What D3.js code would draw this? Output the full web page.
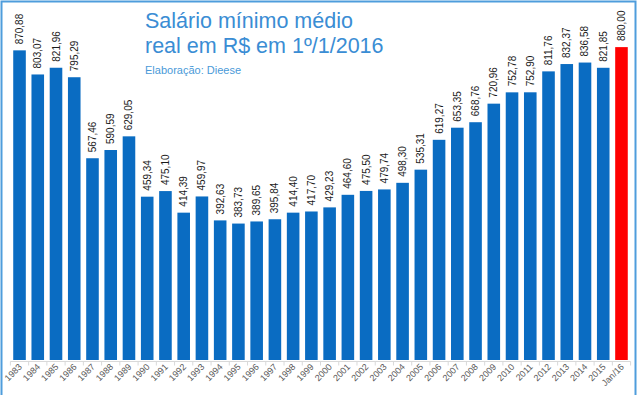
<!DOCTYPE html>
<html>
<head>
<meta charset="utf-8">
<script src="https://cdn.jsdelivr.net/npm/d3@7"></script>
<style>
  html, body { margin: 0; padding: 0; background: #fff; }
  svg { display: block; font-family: "Liberation Sans", Arial, sans-serif; }
</style>
</head>
<body>
<svg width="640" height="395"></svg>
<script>
// anos e valores (R$ de 1/1/2016)
var years = ["1983", "1984", "1985", "1986", "1987", "1988", "1989", "1990", "1991", "1992",
  "1993", "1994", "1995", "1996", "1997", "1998", "1999", "2000", "2001", "2002",
  "2003", "2004", "2005", "2006", "2007", "2008", "2009", "2010", "2011", "2012",
  "2013", "2014", "2015", "Jan/16"];
var values = [870.88, 803.07, 821.96, 795.29, 567.46, 590.59, 629.05, 459.34, 475.10, 414.39,
  459.97, 392.63, 383.73, 389.65, 395.84, 414.40, 417.70, 429.23, 464.60, 475.50,
  479.74, 498.30, 535.31, 619.27, 653.35, 668.76, 720.96, 752.78, 752.90, 811.76,
  832.37, 836.58, 821.85, 880.00];
var highlight = "Jan/16";

var svg = d3.select("svg");

var ptBR = d3.formatLocale({decimal: ",", thousands: ".", grouping: [3], currency: ["R$", ""]});
var fmt = ptBR.format(".2f");

var x = d3.scaleBand()
    .domain(years)
    .range([10.4, 630.6])
    .paddingInner(0.31)
    .paddingOuter(0.155);

var y = d3.scaleLinear()
    .domain([0, 900])
    .range([360, 40]);

var data = years.map(function(d, i) { return {year: d, value: values[i]}; });

// frame
svg.append("rect")
    .attr("x", 1.5).attr("y", 1.5)
    .attr("width", 634).attr("height", 400)
    .attr("fill", "none")
    .attr("stroke", "#4f9ddc")
    .attr("stroke-width", 2);

// bars
svg.selectAll(".bar")
    .data(data)
  .enter().append("rect")
    .attr("class", "bar")
    .attr("x", function(d) { return x(d.year); })
    .attr("y", function(d) { return y(d.value); })
    .attr("width", x.bandwidth())
    .attr("height", function(d) { return y(0) - y(d.value); })
    .attr("fill", function(d) { return d.year === highlight ? "#ff0000" : "#0a6cc2"; });

// value labels
svg.selectAll(".val")
    .data(data)
  .enter().append("text")
    .attr("class", "val")
    .attr("transform", function(d) {
      return "translate(" + (x(d.year) + x.bandwidth() / 2 + 3.5) + "," + (y(d.value) - 6) + ") rotate(-90)";
    })
    .attr("font-size", 10)
    .attr("fill", "#1a1a1a")
    .text(function(d) { return fmt(d.value); });

// x axis: ticks between categories
var axisY = 361.5;
svg.append("line")
    .attr("x1", x.range()[0]).attr("x2", x.range()[1])
    .attr("y1", axisY).attr("y2", axisY)
    .attr("stroke", "#d9d9d9");

var bounds = years.map(function(d) { return x(d) - x.step() * x.paddingInner() / 2; })
    .concat([x.range()[1]]);
svg.selectAll(".tick")
    .data(bounds)
  .enter().append("line")
    .attr("class", "tick")
    .attr("x1", function(d) { return d; }).attr("x2", function(d) { return d; })
    .attr("y1", axisY).attr("y2", axisY + 4)
    .attr("stroke", "#d9d9d9");

svg.selectAll(".xlab")
    .data(years)
  .enter().append("text")
    .attr("class", "xlab")
    .attr("transform", function(d) {
      return "translate(" + (x(d) + x.bandwidth() / 2 + 3) + "," + (axisY + 6) + ") rotate(-45)";
    })
    .attr("text-anchor", "end")
    .attr("font-size", 9)
    .attr("fill", "#595959")
    .text(function(d) { return d; });

// title
var title = svg.append("text")
    .attr("x", 145)
    .attr("fill", "#3a8dd4")
    .attr("font-size", 21.5);
title.append("tspan").attr("x", 145).attr("y", 28).text("Salário mínimo médio");
title.append("tspan").attr("x", 145).attr("y", 53).text("real em R$ em 1º/1/2016");

svg.append("text")
    .attr("x", 145).attr("y", 74)
    .attr("fill", "#4a9ad8")
    .attr("font-size", 11)
    .text("Elaboração: Dieese");
</script>
</body>
</html>
